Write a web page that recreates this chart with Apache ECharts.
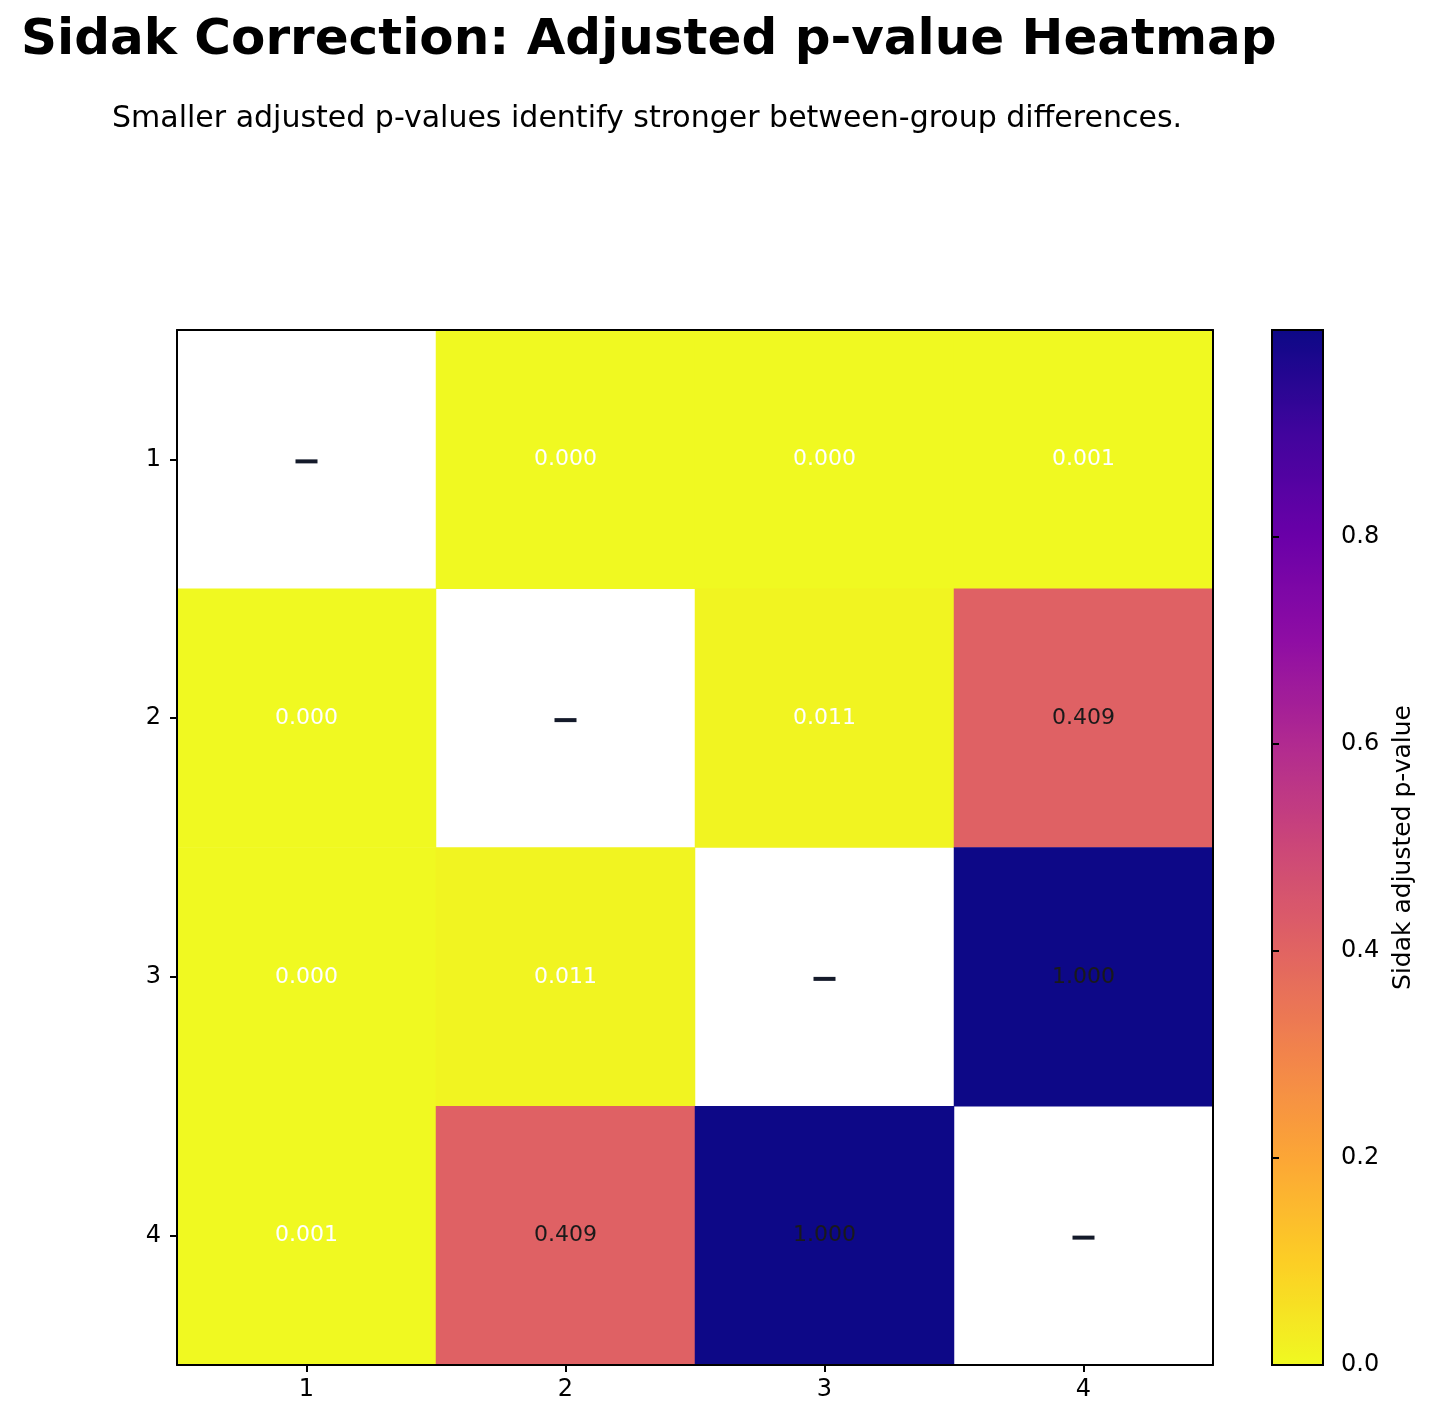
<!DOCTYPE html>
<html>
<head>
<meta charset="utf-8">
<script src="https://cdn.jsdelivr.net/npm/echarts@6/dist/echarts.min.js"></script>
<style>
html,body{margin:0;padding:0;background:#fff;}
#chart{width:1432px;height:1426px;}
</style>
</head>
<body>
<div id="chart"></div>
<script>
// ---- data ----
const groups = ['1', '2', '3', '4'];
const pairRows = [0, 0, 0, 1, 1, 2];
const pairCols = [1, 2, 3, 2, 3, 3];
const pairPValues = [0.0001, 0.0002, 0.001, 0.011, 0.409, 0.9998];
const pairLabels = ['0.000', '0.000', '0.001', '0.011', '0.409', '1.000'];
const colorbarTicks = [0, 0.2, 0.4, 0.6, 0.8];

// plasma reversed (low = yellow, high = dark blue)
const plasmaR = ['#f0f921','#fcce25','#fca636','#f2844b','#e16462','#cc4778','#b12a90','#8f0da4','#6a00a8','#41049d','#0d0887'];

const FONT = 'DejaVu Sans';
const heatData = [];
for (let k = 0; k < pairRows.length; k++) {
  const r = pairRows[k], c = pairCols[k], v = pairPValues[k];
  const txtColor = v > 0.3 ? '#1a1a1a' : '#ffffff';
  [[c, r], [r, c]].forEach(([x, y]) => {
    heatData.push({ value: [x, y, v], label: { formatter: pairLabels[k], color: txtColor } });
  });
}
const diagData = groups.map((g, i) => [i, i]);

const chart = echarts.init(document.getElementById('chart'), null, { renderer: 'canvas' });
const gridL = 177, gridT = 330, gridW = 1036, gridH = 1035;
chart.setOption({
  backgroundColor: '#ffffff',
  animation: false,
  title: [
    { text: 'Sidak Correction: Adjusted p-value Heatmap', left: 16, top: 11,
      textStyle: { fontFamily: FONT, fontSize: 50, fontWeight: 'bold', color: '#000' } },
    { text: 'Smaller adjusted p-values identify stronger between-group differences.', left: 107, top: 99,
      textStyle: { fontFamily: FONT, fontSize: 30, fontWeight: 'normal', color: '#000' } }
  ],
  grid: [
    { left: gridL, top: gridT, width: gridW, height: gridH, show: false },
    { left: 1272, top: 330, width: 51, height: 1035, show: true, borderColor: '#000', borderWidth: 2, backgroundColor: 'transparent', z: 10 }
  ],
  xAxis: [
    { type: 'category', data: groups, gridIndex: 0, position: 'bottom', z: 10,
      axisLine: { show: true, lineStyle: { color: '#000', width: 2 } },
      axisTick: { show: true, alignWithLabel: true, length: 7, lineStyle: { color: '#000', width: 2 } },
      axisLabel: { fontFamily: FONT, fontSize: 24, color: '#000', margin: 13 },
      splitLine: { show: false } },
    { type: 'category', data: groups, gridIndex: 0, position: 'top', z: 10,
      axisLine: { show: true, onZero: false, lineStyle: { color: '#000', width: 2 } },
      axisTick: { show: false }, axisLabel: { show: false } },
    { type: 'value', gridIndex: 1, show: false, min: 0, max: 1 }
  ],
  yAxis: [
    { type: 'category', data: groups, gridIndex: 0, inverse: true, position: 'left', z: 10,
      axisLine: { show: true, lineStyle: { color: '#000', width: 2 } },
      axisTick: { show: true, alignWithLabel: true, length: 7, lineStyle: { color: '#000', width: 2 } },
      axisLabel: { fontFamily: FONT, fontSize: 24, color: '#000', margin: 16 } },
    { type: 'category', data: groups, gridIndex: 0, inverse: true, position: 'right', z: 10,
      axisLine: { show: true, onZero: false, lineStyle: { color: '#000', width: 2 } },
      axisTick: { show: false }, axisLabel: { show: false } },
    { type: 'value', gridIndex: 1, position: 'right', min: 0, max: 1, interval: 0.2, z: 10,
      axisLine: { show: false },
      axisTick: { show: true, length: 7, lineStyle: { color: '#000', width: 2 } },
      axisLabel: { fontFamily: FONT, fontSize: 24, color: '#000', margin: 18,
        formatter: v => colorbarTicks.some(t => Math.abs(t - v) < 1e-9) ? v.toFixed(1) : '' },
      splitLine: { show: false },
      name: 'Sidak adjusted p-value', nameLocation: 'middle', nameRotate: 90, nameGap: 68,
      nameTextStyle: { fontFamily: FONT, fontSize: 25, color: '#000' } }
  ],
  visualMap: {
    type: 'continuous', min: 0, max: 1, seriesIndex: 0, calculable: false,
    show: true, orient: 'vertical', left: 1272, top: 330, itemWidth: 51, itemHeight: 1035,
    padding: 0, text: null, showLabel: false, hoverLink: false,
    inRange: { color: plasmaR }
  },
  series: [
    { type: 'heatmap', xAxisIndex: 0, yAxisIndex: 0, data: heatData,
      itemStyle: { borderWidth: 0 },
      label: { show: true, fontFamily: FONT, fontSize: 22 },
      emphasis: { disabled: true } },
    { type: 'scatter', xAxisIndex: 0, yAxisIndex: 0, data: diagData,
      symbol: 'rect', symbolSize: [22, 4], symbolOffset: [0, 2],
      itemStyle: { color: '#141a2a', opacity: 1 },
      emphasis: { disabled: true } }
  ]
});
</script>
</body>
</html>
